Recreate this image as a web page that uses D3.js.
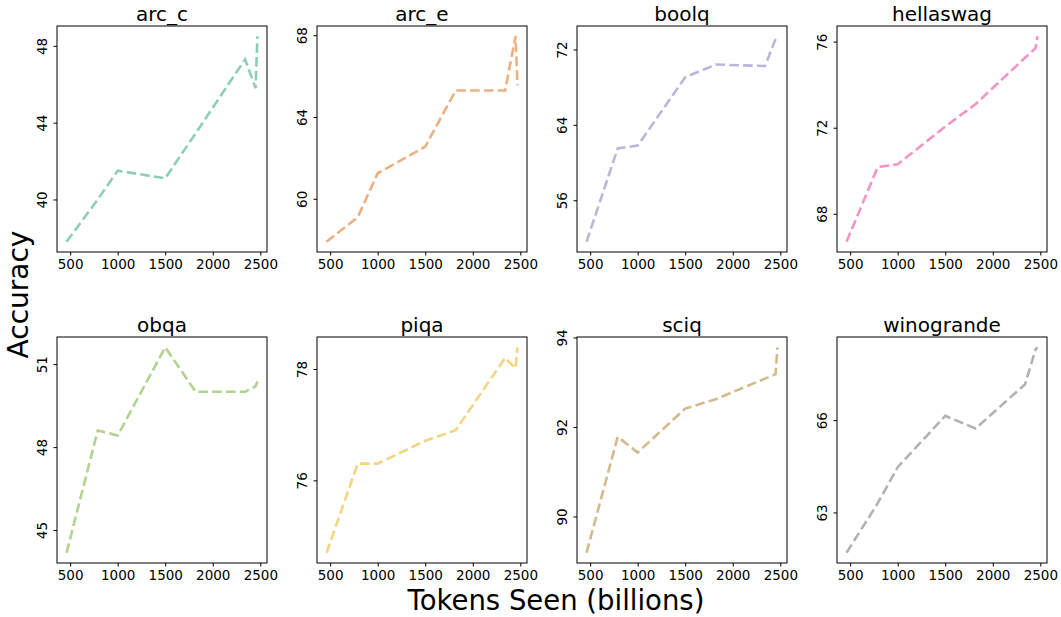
<!DOCTYPE html>
<html>
<head>
<meta charset="utf-8">
<script src="https://cdn.jsdelivr.net/npm/d3@7"></script>
<style>
  html, body { margin: 0; padding: 0; background: #fff; }
  svg { display: block; font-family: "DejaVu Sans", sans-serif; }
</style>
</head>
<body>
<svg id="chart" width="1061" height="617"></svg>
<script>
// ---- data ----
const tokens = [462, 790, 1000, 1500, 1820, 2340, 2450, 2470];
const tasks = ["arc_c", "arc_e", "boolq", "hellaswag", "obqa", "piqa", "sciq", "winogrande"];
const arc_c      = [37.8, 40.0, 41.5, 41.1, 43.45, 47.3, 45.8, 48.5];
const arc_e      = [57.9, 59.1, 61.25, 62.55, 65.3, 65.3, 67.95, 65.55];
const boolq      = [51.6, 61.5, 61.8, 69.05, 70.4, 70.25, 73.1, 73.4];
const hellaswag  = [66.7, 70.17, 70.3, 72.05, 73.1, 75.25, 75.7, 76.25];
const obqa       = [44.18, 48.6, 48.42, 51.61, 50.0, 50.0, 50.2, 50.37];
const piqa       = [74.7, 76.3, 76.3, 76.71, 76.9, 78.2, 78.01, 78.39];
const sciq       = [89.19, 91.78, 91.43, 92.41, 92.62, 93.08, 93.18, 93.78];
const winogrande = [61.69, 63.3, 64.47, 66.14, 65.73, 67.17, 68.3, 68.37];
const seriesValues = [arc_c, arc_e, boolq, hellaswag, obqa, piqa, sciq, winogrande];
const xTicks = [500, 1000, 1500, 2000, 2500];
const yTicks = [[40, 44, 48], [60, 64, 68], [56, 64, 72], [68, 72, 76],
                [45, 48, 51], [76, 78], [90, 92, 94], [63, 66]];
const colors = ["#1b9e77", "#d95f02", "#7570b3", "#e7298a", "#66a61e", "#e6ab02", "#a6761d", "#666666"];
const xLabel = "Tokens Seen (billions)";
const yLabel = "Accuracy";

// ---- layout ----
const svg = d3.select("#chart");
const colLeft = [57, 317, 577, 837];
const rowTop = [26, 337];
const pw = 210, ph = 226;

function padded(ext) {
  const r = ext[1] - ext[0];
  return [ext[0] - 0.05 * r, ext[1] + 0.05 * r];
}

tasks.forEach((task, i) => {
  const col = i % 4, row = Math.floor(i / 4);
  const g = svg.append("g").attr("transform", `translate(${colLeft[col]},${rowTop[row]})`);
  const vals = seriesValues[i];
  const x = d3.scaleLinear().domain(padded(d3.extent(tokens))).range([0, pw]);
  const y = d3.scaleLinear().domain(padded(d3.extent(vals))).range([ph, 0]);

  const data = tokens.map((t, k) => [t, vals[k]]);
  g.append("path")
    .datum(data)
    .attr("fill", "none")
    .attr("stroke", colors[i])
    .attr("stroke-opacity", 0.5)
    .attr("stroke-width", 2.6)
    .attr("stroke-dasharray", "9.6,4.2")
    .attr("d", d3.line().x(d => x(d[0])).y(d => y(d[1])));

  // frame
  g.append("rect").attr("x", 0).attr("y", 0).attr("width", pw).attr("height", ph)
    .attr("fill", "none").attr("stroke", "#000").attr("stroke-width", 1);

  // x axis
  const xa = g.append("g").attr("transform", `translate(0,${ph})`)
    .call(d3.axisBottom(x).tickValues(xTicks).tickSize(3.5).tickPadding(3.5).tickFormat(d3.format("d")));
  xa.select(".domain").remove();
  xa.attr("font-size", null).attr("font-family", null);
  xa.selectAll("text").style("font-size", "13.5px").style("font-family", "DejaVu Sans").attr("fill", "#000");
  xa.selectAll("line").attr("stroke", "#000");

  // y axis
  const ya = g.append("g")
    .call(d3.axisLeft(y).tickValues(yTicks[i]).tickSize(3.5).tickFormat(d3.format("d")));
  ya.select(".domain").remove();
  ya.attr("font-size", null).attr("font-family", null);
  ya.selectAll("line").attr("stroke", "#000");
  ya.selectAll("text")
    .style("font-size", "13.5px").style("font-family", "DejaVu Sans").attr("fill", "#000")
    .attr("x", null).attr("dy", null)
    .attr("text-anchor", "middle")
    .attr("transform", "translate(-10.5,0) rotate(-90)");

  // title
  g.append("text").attr("x", pw / 2).attr("y", -5).attr("text-anchor", "middle")
    .style("font-size", "20px").attr("fill", "#000").text(task);
});

svg.append("text").attr("x", 556).attr("y", 610).attr("text-anchor", "middle")
  .style("font-size", "27.5px").attr("fill", "#000").text(xLabel);
svg.append("text").attr("transform", "translate(28,294.5) rotate(-90)").attr("text-anchor", "middle")
  .style("font-size", "28px").attr("fill", "#000").text(yLabel);
</script>
</body>
</html>
